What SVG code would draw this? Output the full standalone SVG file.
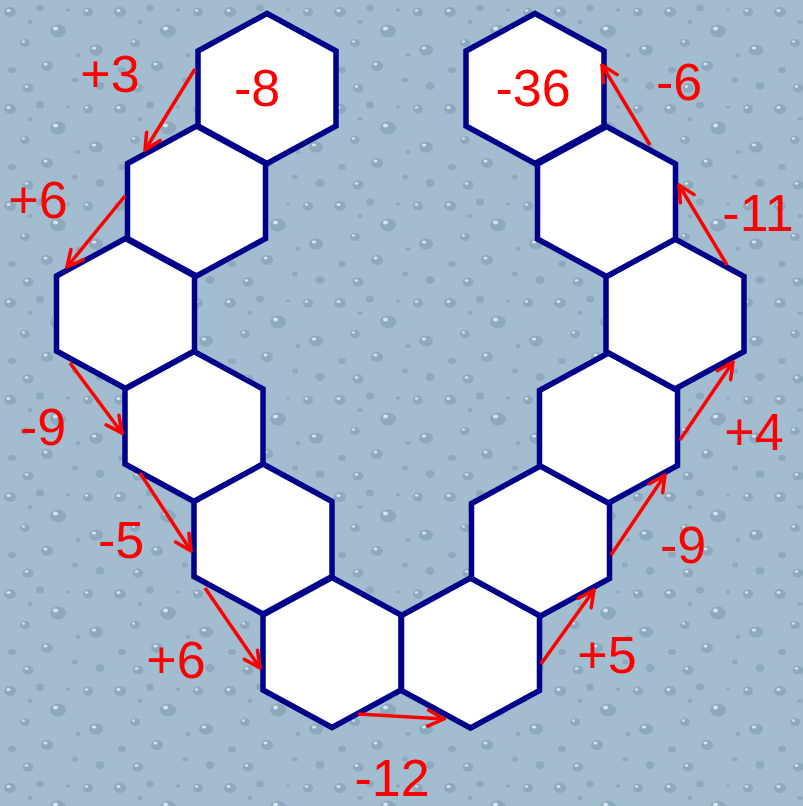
<svg xmlns="http://www.w3.org/2000/svg" width="803" height="806" viewBox="0 0 803 806">
  <defs>
    <style>
      .hex { fill: #ffffff; stroke: #00008b; stroke-width: 5.5; stroke-linejoin: miter; }
      .lbl { font-family: "Liberation Sans", Arial, sans-serif; font-size: 52px; fill: #ff0000; text-anchor: middle; }
      .arr { stroke: #ff0000; stroke-width: 3.5; fill: none; marker-end: url(#head); }
      .d { fill: #8ca9be; }
      .h { fill: #d6e4ee; }
    </style>
    <path id="hexshape" d="M0,-75 L69,-37.5 L69,37.5 L0,75 L-69,37.5 L-69,-37.5 Z"/>
    <marker id="head" viewBox="0 0 20 20" refX="18" refY="10" markerWidth="20" markerHeight="20" markerUnits="userSpaceOnUse" orient="auto">
      <path d="M2,2 L18,10 L2,18" fill="none" stroke="#ff0000" stroke-width="3.5" stroke-linecap="round"/>
    </marker>
    <pattern id="drops" width="110" height="97" patternUnits="userSpaceOnUse">
      <rect width="110" height="97" fill="#a1bdcf"/>
      <ellipse class="d" cx="10" cy="12" rx="6" ry="5"/>
      <ellipse class="h" cx="8.5" cy="10.5" rx="2" ry="1.5"/>
      <ellipse class="d" cx="40" cy="8" rx="4" ry="3.5"/>
      <ellipse class="d" cx="58" cy="31" rx="8" ry="6.5"/>
      <ellipse class="h" cx="55.5" cy="28.5" rx="2.5" ry="2"/>
      <ellipse class="d" cx="25" cy="43" rx="5" ry="4"/>
      <ellipse class="h" cx="23.5" cy="41.5" rx="1.5" ry="1.2"/>
      <ellipse class="d" cx="12" cy="70" rx="4" ry="3"/>
      <ellipse class="d" cx="47" cy="66" rx="6" ry="5"/>
      <ellipse class="h" cx="45.5" cy="64" rx="2" ry="1.5"/>
      <ellipse class="d" cx="75" cy="80" rx="3" ry="2.5"/>
      <ellipse class="d" cx="30" cy="22" rx="2.5" ry="2"/>
      <ellipse class="d" cx="88" cy="12" rx="5" ry="4.5"/>
      <ellipse class="h" cx="86.5" cy="10.5" rx="1.6" ry="1.3"/>
      <ellipse class="d" cx="96" cy="50" rx="7" ry="5.5"/>
      <ellipse class="h" cx="94" cy="48" rx="2.2" ry="1.6"/>
      <ellipse class="d" cx="78" cy="55" rx="2.5" ry="2"/>
      <ellipse class="d" cx="100" cy="86" rx="4.5" ry="4"/>
      <ellipse class="d" cx="28" cy="88" rx="5.5" ry="4.5"/>
      <ellipse class="h" cx="26.5" cy="86.5" rx="1.8" ry="1.3"/>
      <ellipse class="d" cx="68" cy="10" rx="2" ry="1.8"/>
    </pattern>
  </defs>
  <rect x="0" y="0" width="803" height="806" fill="url(#drops)"/>

  <g id="nodes">
    <g id="n1"><use href="#hexshape" class="hex" transform="translate(267,88.5)"/><text class="lbl" x="257" y="106">-8</text></g>
    <g id="n2"><use href="#hexshape" class="hex" transform="translate(196.5,201)"/></g>
    <g id="n3"><use href="#hexshape" class="hex" transform="translate(125.5,313.5)"/></g>
    <g id="n4"><use href="#hexshape" class="hex" transform="translate(194,426.5)"/></g>
    <g id="n5"><use href="#hexshape" class="hex" transform="translate(263,539)"/></g>
    <g id="n6"><use href="#hexshape" class="hex" transform="translate(332,652.5)"/></g>
    <g id="n7"><use href="#hexshape" class="hex" transform="translate(470.5,653)"/></g>
    <g id="n8"><use href="#hexshape" class="hex" transform="translate(540.5,541)"/></g>
    <g id="n9"><use href="#hexshape" class="hex" transform="translate(608.5,428)"/></g>
    <g id="n10"><use href="#hexshape" class="hex" transform="translate(675,314)"/></g>
    <g id="n11"><use href="#hexshape" class="hex" transform="translate(606.5,201.5)"/></g>
    <g id="n12"><use href="#hexshape" class="hex" transform="translate(535,88.5)"/><text class="lbl" x="533" y="106">-36</text></g>
  </g>

  <g id="connectors">
    <line class="arr" x1="195" y1="69" x2="145" y2="150"/>
    <line class="arr" x1="125" y1="196" x2="67" y2="267"/>
    <line class="arr" x1="70" y1="363" x2="122" y2="433"/>
    <line class="arr" x1="140" y1="473" x2="191" y2="551"/>
    <line class="arr" x1="205" y1="588" x2="260" y2="668"/>
    <line class="arr" x1="358" y1="714" x2="444" y2="719"/>
    <line class="arr" x1="541" y1="664" x2="594" y2="590"/>
    <line class="arr" x1="611" y1="555" x2="665" y2="475"/>
    <line class="arr" x1="680" y1="440" x2="733" y2="362"/>
    <line class="arr" x1="727" y1="265" x2="679" y2="185"/>
    <line class="arr" x1="650" y1="145" x2="602" y2="65"/>
    <text class="lbl" x="110" y="92">+3</text>
    <text class="lbl" x="38" y="218">+6</text>
    <text class="lbl" x="43" y="445">-9</text>
    <text class="lbl" x="121" y="558">-5</text>
    <text class="lbl" x="176" y="678">+6</text>
    <text class="lbl" x="392" y="796">-12</text>
    <text class="lbl" x="607" y="673">+5</text>
    <text class="lbl" x="683" y="563">-9</text>
    <text class="lbl" x="754" y="450">+4</text>
    <text class="lbl" x="758" y="231">-11</text>
    <text class="lbl" x="679" y="100">-6</text>
  </g>
</svg>
